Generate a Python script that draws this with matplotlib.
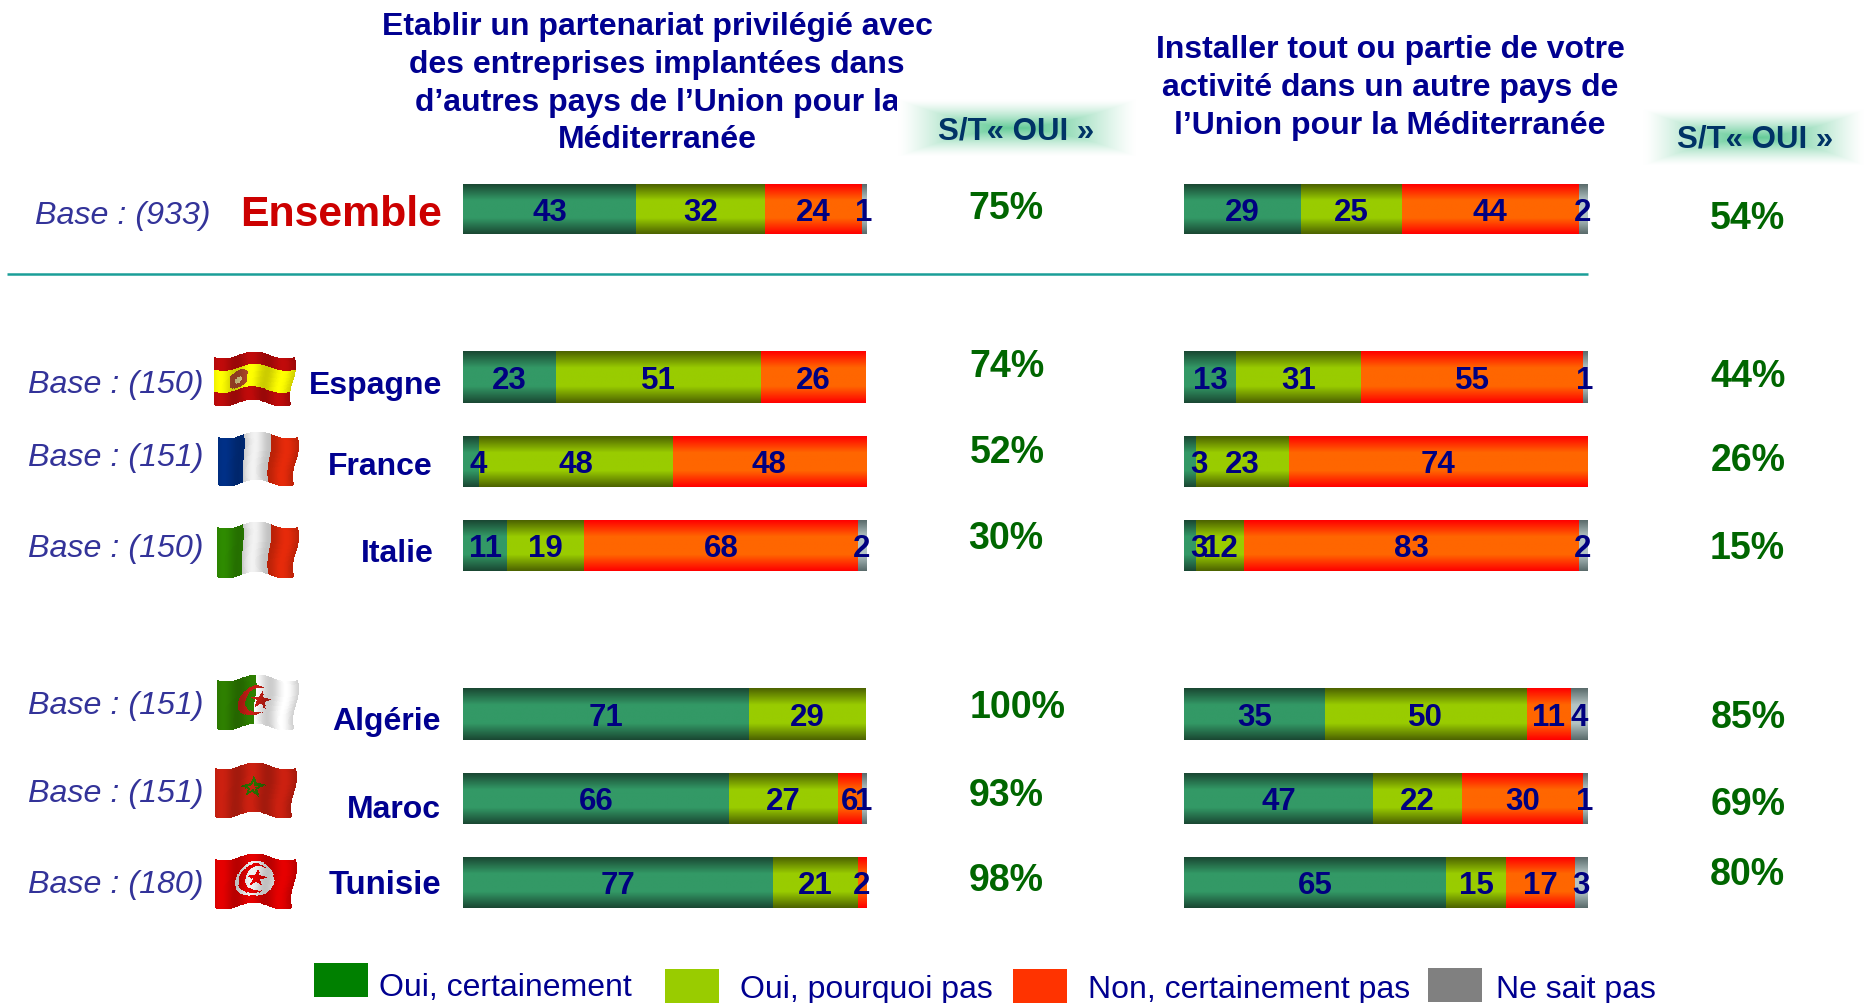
import numpy as np
import matplotlib
matplotlib.use("Agg")
import matplotlib.pyplot as plt
from matplotlib.path import Path

plt.rcParams['font.family'] = ['Liberation Sans', 'DejaVu Sans']

# ---------- data ----------
countries = ["Ensemble", "Espagne", "France", "Italie", "Algérie", "Maroc", "Tunisie"]
bases = [933, 150, 151, 150, 151, 151, 180]
series_names = ["Oui, certainement", "Oui, pourquoi pas", "Non, certainement pas", "Ne sait pas"]
left_certain = [43, 23, 4, 11, 71, 66, 77]
left_pourquoi = [32, 51, 48, 19, 29, 27, 21]
left_non = [24, 26, 48, 68, 0, 6, 2]
left_nsp = [1, 0, 0, 2, 0, 1, 0]
right_certain = [29, 13, 3, 3, 35, 47, 65]
right_pourquoi = [25, 31, 23, 12, 50, 22, 15]
right_non = [44, 55, 74, 83, 11, 30, 17]
right_nsp = [2, 1, 0, 2, 4, 1, 3]
left_oui = [75, 74, 52, 30, 100, 93, 98]
right_oui = [54, 44, 26, 15, 85, 69, 80]
title_left = ["Etablir un partenariat privilégié avec", "des entreprises implantées dans",
              "d’autres pays de l’Union pour la", "Méditerranée"]
title_right = ["Installer tout ou partie de votre", "activité dans un autre pays de",
               "l’Union pour la Méditerranée"]

# ---------- layout (pixels of the 1865x1004 canvas) ----------
W, H = 1865, 1004
bar_top = [185, 352, 437, 521, 689, 774, 858]
bar_bot = [235, 404, 488, 572, 741, 825, 909]
NAVY = "#000090"
LABEL = "#000080"
GREEN = "#006600"

fig = plt.figure(figsize=(W / 100, H / 100), dpi=100, facecolor="white")
bg = fig.add_axes([0, 0, 1, 1])
bg.set_xlim(0, W)
bg.set_ylim(H, 0)
bg.axis("off")

gradients = [
    ((0x1a, 0x48, 0x33), (0x33, 0x99, 0x66)),
    ((0x4d, 0x63, 0x00), (0x99, 0xcc, 0x00)),
    ((0xff, 0x00, 0x00), (0xff, 0x66, 0x00)),
    ((0x5a, 0x6b, 0x6b), (0xb4, 0xc4, 0xc4)),
]
bar_colors = ["#339966", "#99CC00", "#FF6600", "#969696"]


def grad_image(edge, mid, n=64):
    t = np.linspace(0, 1, n)
    d = np.minimum(t, 1 - t) / 0.32
    d = np.clip(d, 0, 1)[:, None, None]
    return (np.array(edge)[None, None, :] * (1 - d) + np.array(mid)[None, None, :] * d) / 255


def panel(x0, x1, series):
    ax = fig.add_axes([x0 / W, 0, (x1 - x0) / W, 1], zorder=2)
    ax.patch.set_alpha(0)
    ax.axis("off")
    for r in range(len(countries)):
        left = 0
        h = bar_bot[r] - bar_top[r]
        yc = (bar_top[r] + bar_bot[r]) / 2
        for s, vals in enumerate(series):
            v = vals[r]
            if v == 0:
                continue
            b = ax.barh(yc, v, height=h, left=left, color=bar_colors[s], linewidth=0)[0]
            im = ax.imshow(grad_image(*gradients[s]), extent=[left, left + v, bar_bot[r], bar_top[r]],
                           aspect="auto", interpolation="bilinear", zorder=2)
            im.set_clip_path(b)
            left += v
        left = 0
        for s, vals in enumerate(series):
            v = vals[r]
            if v == 0:
                continue
            xt = left + v / 2
            if s == 0 and v <= 4:
                xt = left + 3.7
            ax.text(xt, yc + 3, str(v), ha="center", va="center", color=LABEL, fontsize=22.5,
                    fontweight="bold", zorder=5)
            left += v
    ax.set_xlim(0, 100)
    ax.set_ylim(H, 0)
    return ax


panel(463, 866, [left_certain, left_pourquoi, left_non, left_nsp])
panel(1184, 1587, [right_certain, right_pourquoi, right_non, right_nsp])

# titles
title_left_y = [27, 65, 103, 140]
for line, y in zip(title_left, title_left_y):
    bg.text(657, y, line, ha="center", va="center", color=NAVY, fontsize=23, fontweight="bold")
title_right_y = [50, 88, 126]
for line, y in zip(title_right, title_right_y):
    bg.text(1390, y, line, ha="center", va="center", color=NAVY, fontsize=23, fontweight="bold")


# S/T glow boxes
def glow(x0, x1, y0, y1, xm):
    nx, ny = int(x1 - x0), int(y1 - y0)
    xs = np.linspace(x0, x1, nx)
    ys = np.linspace(0, 1, ny)
    dx = np.where(xs < xm, (xm - xs) / (xm - x0), (xs - xm) / (x1 - xm))
    dy = np.abs(ys - 0.5) * 2
    k = np.clip(1 - np.maximum(dx[None, :] ** 1.6, dy[:, None] ** 1.0), 0, 1)[:, :, None] ** 1.4
    col = np.array([0x66, 0xcc, 0x99])[None, None, :] / 255
    img = (1 - k) + col * k
    bg.imshow(img, extent=[x0, x1, y1, y0], aspect="auto", zorder=3.2, interpolation="bilinear")


# white edge of the first glow hides the end of the title line, as in the source
bg.fill([897, 930, 930, 897], [80, 80, 125, 125], color="white", linewidth=0, zorder=3.1)
glow(898, 1137, 100, 158, 1016)
glow(1643, 1865, 110, 167, 1755)
bg.text(1016, 131, "S/T« OUI »", ha="center", va="center", color="#003366", fontsize=22.5,
        fontweight="bold", zorder=4)
bg.text(1755, 140, "S/T« OUI »", ha="center", va="center", color="#003366", fontsize=22.5,
        fontweight="bold", zorder=4)
bg.set_xlim(0, W)
bg.set_ylim(H, 0)

# separator
bg.plot([7, 1588], [275, 275], color="#1a9e98", lw=1.8, solid_capstyle="butt")

# row labels
base_x = [35, 28, 28, 28, 28, 28, 28]
base_y = [216, 385, 458, 549, 706, 794, 885]
for b, x, y in zip(bases, base_x, base_y):
    bg.text(x, y, f"Base : ({b})", ha="left", va="center", color="#333399", fontsize=23.2,
            fontstyle="italic")
name_x = [442, 442, 433, 434, 441, 441, 441]
name_y = [215, 386, 467, 554, 722, 810, 886]
name_size = [30.8, 23, 23, 23, 23, 23, 23.7]
for i, (n, x, y, fs) in enumerate(zip(countries, name_x, name_y, name_size)):
    bg.text(x, y, n, ha="right", va="center", color="#CC0000" if i == 0 else NAVY,
            fontsize=fs, fontweight="bold")

# S/T percentages
oui_l_x = [1006, 1007, 1007, 1006, 1018, 1006, 1006]
oui_l_y = [209, 367, 453, 539, 708, 796, 881]
for v, x, y in zip(left_oui, oui_l_x, oui_l_y):
    bg.text(x, y, f"{v}%", ha="center", va="center", color=GREEN, fontsize=27, fontweight="bold")
oui_r_x = [1747, 1748, 1748, 1747, 1748, 1748, 1747]
oui_r_y = [219, 377, 461, 549, 718, 805, 875]
for v, x, y in zip(right_oui, oui_r_x, oui_r_y):
    bg.text(x, y, f"{v}%", ha="center", va="center", color=GREEN, fontsize=27, fontweight="bold")

# legend
leg_colors = ["#008000", "#99CC00", "#FF3300", "#808080"]
leg_box = [(314, 964), (665, 970), (1013, 970), (1428, 969)]
leg_text = [(379, 988), (740, 990), (1088, 990), (1496, 990)]
for name, c, (bx, by), (tx, ty) in zip(series_names, leg_colors, leg_box, leg_text):
    bg.fill([bx, bx + 54, bx + 54, bx], [by, by, by + 34, by + 34], color=c, linewidth=0)
    bg.text(tx, ty, name, ha="left", va="center", color=NAVY, fontsize=23)


# ---------- decorative waving flags ----------
def star_path(cx, cy, r, aspect):
    a = np.arange(10) * np.pi / 5 - np.pi / 2
    rr = np.where(np.arange(10) % 2 == 0, r, r * 0.4)
    return Path(np.column_stack([cx + rr * np.cos(a) / aspect, cy + rr * np.sin(a)]))


def flag_pixels(kind, u, v):
    asp = 84 / 57
    rgb = np.ones(u.shape + (3,))
    def paint(mask, hexc):
        rgb[mask] = matplotlib.colors.to_rgb(hexc)
    def disk(cx, cy, r):
        return ((u - cx) * asp) ** 2 + (v - cy) ** 2 < r ** 2
    def star(cx, cy, r):
        pts = np.column_stack([u.ravel(), v.ravel()])
        return star_path(cx, cy, r, asp).contains_points(pts).reshape(u.shape)
    if kind == "Espagne":
        paint(np.ones_like(u, bool), "#c00a0a")
        paint((v > 0.25) & (v < 0.72), "#ffff00")
        paint(disk(0.31, 0.5, 0.19) & (np.abs(u - 0.31) < 0.11), "#b0482a")
        paint(disk(0.31, 0.53, 0.07), "#e8d890")
    elif kind == "France":
        paint(u < 0.33, "#003087")
        paint((u >= 0.33) & (u < 0.66), "#f2f2f2")
        paint(u >= 0.66, "#e62a0a")
    elif kind == "Italie":
        paint(u < 0.33, "#2e8b00")
        paint((u >= 0.33) & (u < 0.66), "#f2f2f2")
        paint(u >= 0.66, "#e62a0a")
    elif kind == "Algérie":
        paint(u < 0.48, "#2e8000")
        paint(u >= 0.48, "#ffffff")
        paint(disk(0.47, 0.52, 0.30) & ~disk(0.53, 0.52, 0.25), "#c81e14")
        paint(star(0.56, 0.52, 0.19), "#c81e14")
    elif kind == "Maroc":
        paint(np.ones_like(u, bool), "#cc2010")
        paint(star(0.48, 0.5, 0.24) & ~star(0.48, 0.5, 0.11), "#2a7000")
    elif kind == "Tunisie":
        paint(np.ones_like(u, bool), "#e60000")
        paint(disk(0.5, 0.5, 0.36), "#f0f0f0")
        paint(disk(0.5, 0.5, 0.30), "#e60000")
        paint(disk(0.55, 0.5, 0.25), "#f0f0f0")
        paint(star(0.53, 0.5, 0.19), "#e60000")
    return rgb


flag_boxes = {
    "Espagne": (214, 297, 353, 407), "France": (218, 300, 433, 487), "Italie": (217, 300, 523, 579),
    "Algérie": (217, 300, 676, 731), "Maroc": (215, 298, 764, 819), "Tunisie": (215, 298, 855, 910),
}
for kind, (x0, x1, y0, y1) in flag_boxes.items():
    nx, ny = int(x1 - x0), int(y1 - y0)
    ue, ve = np.meshgrid(np.linspace(0, 1, nx + 1), np.linspace(0, 1, ny + 1))
    wave_y = 3.5 * np.sin(2 * np.pi * (ue * 1.3 + 0.1))
    wave_x = 3.0 * np.sin(2 * np.pi * (ve * 0.8 + 0.1)) * ue
    X = x0 + ue * (x1 - x0 - 4) + wave_x
    Y = y0 + 3 + ve * (y1 - y0 - 6) + wave_y
    uc = (ue[:-1, :-1] + ue[1:, 1:]) / 2
    vc = (ve[:-1, :-1] + ve[1:, 1:]) / 2
    shade = 0.90 + 0.10 * np.sin(2 * np.pi * (uc * 2.6 + 0.05))
    rgb = np.clip(flag_pixels(kind, uc, vc) * shade[:, :, None], 0, 1)
    bg.pcolormesh(X, Y, rgb, shading="flat", antialiased=False, linewidth=0, zorder=2)

bg.set_xlim(0, W)
bg.set_ylim(H, 0)
fig.savefig("out.png", dpi=100, facecolor="white")
